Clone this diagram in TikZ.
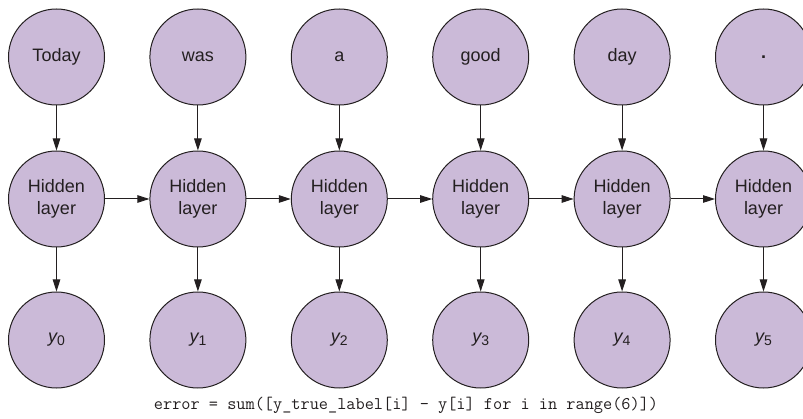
\documentclass[tikz,border=0pt]{standalone}
\usepackage{fontspec}
\setmainfont{Liberation Sans}
\usetikzlibrary{arrows.meta}
\definecolor{nodefill}{HTML}{CBBAD8}
\definecolor{inkc}{HTML}{231F20}
\begin{document}
\begin{tikzpicture}[x=1pt,y=-1pt,
  bub/.style={circle,draw=inkc,fill=nodefill,line width=1pt,minimum size=96pt,inner sep=0pt,
    font=\fontsize{18}{21.5}\selectfont,text=inkc,align=center},
  arr/.style={draw=inkc,line width=1pt,-{Triangle[length=12pt,width=7.5pt]}}]
\useasboundingbox (0,0) rectangle (803,419);
\clip (0,0) rectangle (803,419);
\foreach \i/\w in {0/Today,1/was,2/a,3/good,4/day,5/\textbf{.}} {
  \pgfmathsetmacro{\cx}{56.5+141.4*\i}
  \node[bub] (w\i) at (\cx,57) {\w};
  \node[bub] (h\i) at (\cx,199) {Hidden\\layer};
  \node[bub] (y\i) at (\cx,340) {{\itshape y}\raisebox{-0.3ex}{\fontsize{14}{14}\selectfont\i}};
  \draw[arr] (w\i) -- (h\i);
  \draw[arr] (h\i) -- (y\i);
}
\foreach \i/\j in {0/1,1/2,2/3,3/4,4/5} {
  \draw[arr] (h\i) -- (h\j);
}
\node[font=\ttfamily\fontsize{17.8}{19}\selectfont,text=inkc] (err) at (406,405) {error = sum([y\_true\_label[i] - y[i] for i in range(6)])};
\end{tikzpicture}
\end{document}
